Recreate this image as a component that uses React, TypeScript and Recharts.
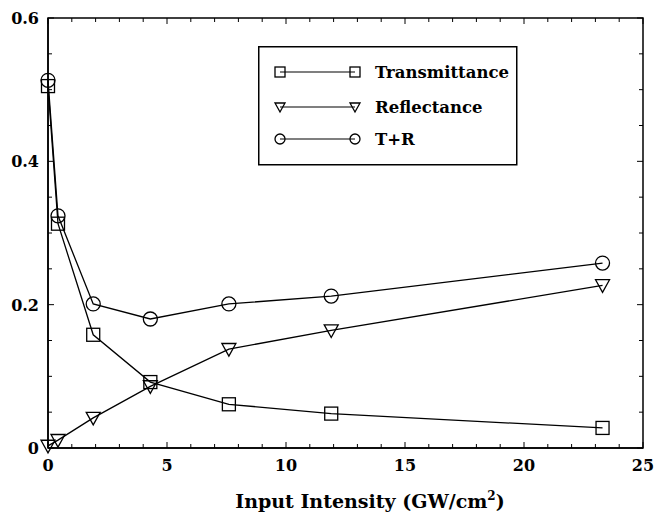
import React from 'react';
import { LineChart, Line, XAxis, YAxis, Legend, ReferenceArea } from 'recharts';

// measured intensities (GW/cm^2)
const intensity = [0, 0.42, 1.9, 4.3, 7.6, 11.9, 23.3];
const transmittance = [0.505, 0.313, 0.158, 0.092, 0.061, 0.048, 0.028];
const reflectance = [0.003, 0.011, 0.042, 0.086, 0.138, 0.164, 0.227];
const sumTR = [0.513, 0.324, 0.201, 0.18, 0.201, 0.212, 0.258];

const xTicks = [0, 1, 2, 3, 4, 5, 6, 7, 8, 9, 10, 11, 12, 13, 14, 15, 16, 17, 18, 19, 20, 21, 22, 23, 24, 25];
const xLabels = [0, 5, 10, 15, 20, 25];
const yTicks = [0, 0.05, 0.1, 0.15, 0.2, 0.25, 0.3, 0.35, 0.4, 0.45, 0.5, 0.55, 0.6];
const yLabels = ['0', '0.2', '0.4', '0.6'];

const data = intensity.map((x, i) => ({
  x,
  t: transmittance[i],
  r: reflectance[i],
  tr: sumTR[i],
}));

const W = 663;
const H = 518;
// axes take 1px each, so plot area is x 48..643, y 18..448
const M = { top: 18, right: 20, bottom: 69, left: 47 };
const PW = 595;
const PH = 430;
const txt = { fontFamily: '"DejaVu Serif", serif', fontWeight: 700 } as const;

const Square = ({ cx, cy, s = 13 }: any) => (
  <rect x={cx - s / 2} y={cy - s / 2} width={s} height={s} fill="none" stroke="#000" strokeWidth={1.3} />
);
const Tri = ({ cx, cy, s = 14 }: any) => (
  <path
    d={`M${cx - s / 2},${cy - s * 0.4} L${cx + s / 2},${cy - s * 0.4} L${cx},${cy + s * 0.5} Z`}
    fill="none"
    stroke="#000"
    strokeWidth={1.3}
  />
);
const Circ = ({ cx, cy, s = 14 }: any) => (
  <circle cx={cx} cy={cy} r={s / 2} fill="none" stroke="#000" strokeWidth={1.3} />
);

const XTick = (props: any) => {
  const { x, y, payload } = props;
  const v = payload.value;
  const major = xLabels.includes(v);
  const len = major ? 6 : 4;
  return (
    <g>
      <line x1={x} y1={y} x2={x} y2={y - len} stroke="#000" />
      <line x1={x} y1={y - PH} x2={x} y2={y - PH + len} stroke="#000" />
      {major && (
        <text x={x} y={y + 23} textAnchor="middle" style={{ ...txt, fontSize: 16 }} fill="#000">
          {v}
        </text>
      )}
    </g>
  );
};

const YTick = (props: any) => {
  const { x, y, payload } = props;
  const v = payload.value;
  const label = yLabels.find((l) => Math.abs(parseFloat(l) - v) < 1e-6);
  const len = label ? 6 : 4;
  return (
    <g>
      <line x1={x} y1={y} x2={x + len} y2={y} stroke="#000" />
      <line x1={x + PW} y1={y} x2={x + PW - len} y2={y} stroke="#000" />
      {label && (
        <text x={x - 9} y={y + 6} textAnchor="end" style={{ ...txt, fontSize: 16 }} fill="#000">
          {label}
        </text>
      )}
    </g>
  );
};

const legendRows = [
  { name: 'Transmittance', Mark: Square, y: 26 },
  { name: 'Reflectance', Mark: Tri, y: 61 },
  { name: 'T+R', Mark: Circ, y: 93 },
];

const LegendBox = () => (
  <svg width={260} height={120} style={{ display: 'block' }}>
    <rect x={0.75} y={0.75} width={258} height={118} fill="#fff" stroke="#000" strokeWidth={1.5} />
    {legendRows.map(({ name, Mark, y }) => (
      <g key={name}>
        <line x1={22} y1={y} x2={97} y2={y} stroke="#000" strokeWidth={1.2} />
        <Mark cx={22} cy={y} s={10} />
        <Mark cx={97} cy={y} s={10} />
        <text x={117} y={y + 6} style={{ ...txt, fontSize: 16.5 }} fill="#000">
          {name}
        </text>
      </g>
    ))}
  </svg>
);

export default function App() {
  return (
    <div style={{ position: 'absolute', left: 0, top: 0, width: W, height: H, background: '#fff' }}>
      <LineChart width={W} height={H} data={data} margin={M}>
        <XAxis
          dataKey="x"
          type="number"
          domain={[0, 25]}
          ticks={xTicks}
          interval={0}
          height={1}
          tickSize={0}
          tickMargin={0}
          tickLine={false}
          tick={<XTick />}
          axisLine={{ stroke: '#000', strokeWidth: 1.5 }}
          label={{
            content: () => (
              <text x={370} y={508} textAnchor="middle" style={{ ...txt, fontSize: 19 }} fill="#000">
                Input Intensity (GW/cm
                <tspan dy={-8} style={{ fontSize: 12 }}>2</tspan>
                <tspan dy={8}>)</tspan>
              </text>
            ),
          }}
        />
        <YAxis
          type="number"
          domain={[0, 0.6]}
          ticks={yTicks}
          interval={0}
          width={1}
          tickSize={0}
          tickMargin={0}
          tickLine={false}
          tick={<YTick />}
          axisLine={{ stroke: '#000', strokeWidth: 1.5 }}
        />
        <ReferenceArea x1={0} x2={25} y1={0} y2={0.6} fill="none" stroke="#000" strokeWidth={1.5} />
        <Legend
          layout="horizontal"
          verticalAlign="middle"
          align="center"
          content={() => <LegendBox />}
          wrapperStyle={{ position: 'absolute', left: 258, top: 46, width: 260, height: 120 }}
        />
        <Line
          dataKey="t"
          stroke="#000"
          strokeWidth={1.3}
          isAnimationActive={false}
          dot={(p: any) => <Square key={`t${p.index}`} cx={p.cx} cy={p.cy} />}
        />
        <Line
          dataKey="r"
          stroke="#000"
          strokeWidth={1.3}
          isAnimationActive={false}
          dot={(p: any) => <Tri key={`r${p.index}`} cx={p.cx} cy={p.cy} />}
        />
        <Line
          dataKey="tr"
          stroke="#000"
          strokeWidth={1.3}
          isAnimationActive={false}
          dot={(p: any) => <Circ key={`c${p.index}`} cx={p.cx} cy={p.cy} />}
        />
      </LineChart>
    </div>
  );
}
